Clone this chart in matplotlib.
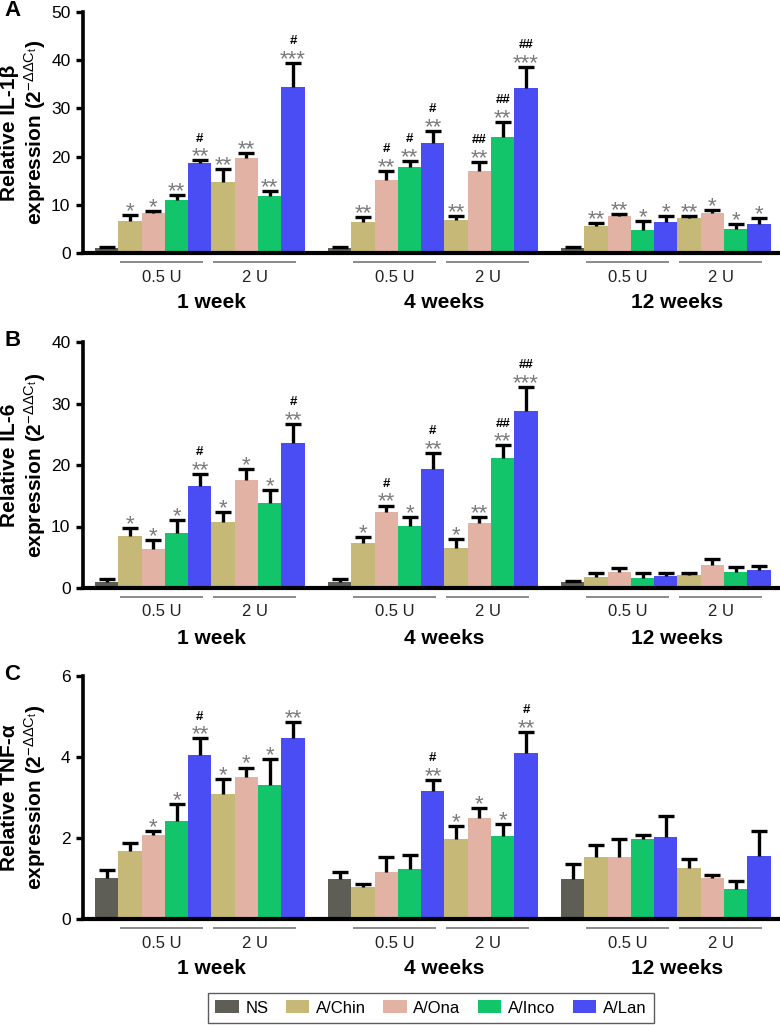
import matplotlib
matplotlib.use('Agg')
import matplotlib.pyplot as plt
import matplotlib.transforms as mtransforms
from matplotlib.patches import Patch
import numpy as np

plt.rcParams['font.family'] = ['Liberation Sans', 'DejaVu Sans']
plt.rcParams['mathtext.fontset'] = 'custom'
plt.rcParams['mathtext.rm'] = 'Liberation Sans'
plt.rcParams['mathtext.it'] = 'Liberation Sans:italic'
plt.rcParams['mathtext.bf'] = 'Liberation Sans:bold'

# ---------------- data ----------------
TREATMENTS = ['NS', 'A/Chin', 'A/Ona', 'A/Inco', 'A/Lan']
COLORS = ['#5e5e57', '#c6b978', '#e2b2a5', '#12c46a', '#4a4cf4']
WEEKS = ['1 week', '4 weeks', '12 weeks']
DOSES = ['0.5 U', '2 U']

# order inside each week: NS, 0.5 U (Chin, Ona, Inco, Lan), 2 U (Chin, Ona, Inco, Lan)
IL1B_MEAN = [[1.0, 6.6, 8.2, 11.0, 18.6, 14.8, 19.8, 11.8, 34.4],
             [1.0, 6.4, 15.2, 17.9, 22.8, 6.8, 17.0, 24.1, 34.2],
             [1.0, 5.6, 7.7, 4.8, 6.4, 7.2, 8.2, 5.0, 6.0]]
IL1B_ERR = [[0.3, 1.2, 0.5, 1.0, 0.6, 2.6, 0.9, 1.0, 5.0],
            [0.3, 1.0, 1.8, 1.2, 2.5, 0.9, 1.9, 3.1, 4.4],
            [0.3, 0.6, 0.4, 1.8, 1.3, 0.5, 0.8, 1.0, 1.2]]
IL1B_STARS = [['', '*', '*', '**', '**', '**', '**', '**', '***'],
              ['', '**', '**', '**', '**', '**', '**', '**', '***'],
              ['', '**', '**', '*', '*', '**', '*', '*', '*']]
IL1B_HASH = [['', '', '', '', '#', '', '', '', '#'],
             ['', '', '#', '#', '#', '', '##', '##', '##'],
             ['', '', '', '', '', '', '', '', '']]

IL6_MEAN = [[1.0, 8.4, 6.3, 8.9, 16.6, 10.7, 17.6, 13.8, 23.5],
            [1.0, 7.3, 12.4, 10.1, 19.4, 6.5, 10.6, 21.2, 28.8],
            [0.9, 1.8, 2.6, 1.6, 1.9, 2.1, 3.7, 2.6, 2.9]]
IL6_ERR = [[0.5, 1.4, 1.5, 2.2, 1.9, 1.7, 1.7, 2.1, 3.2],
           [0.4, 1.0, 1.0, 1.5, 2.6, 1.5, 1.0, 2.0, 3.9],
           [0.3, 0.6, 0.6, 0.8, 0.5, 0.3, 1.0, 0.8, 0.7]]
IL6_STARS = [['', '*', '*', '*', '**', '*', '*', '*', '**'],
             ['', '*', '**', '*', '**', '*', '**', '**', '***'],
             ['', '', '', '', '', '', '', '', '']]
IL6_HASH = [['', '', '', '', '#', '', '', '', '#'],
            ['', '', '#', '', '#', '', '', '##', '##'],
            ['', '', '', '', '', '', '', '', '']]

TNF_MEAN = [[1.02, 1.68, 2.08, 2.43, 4.06, 3.09, 3.51, 3.32, 4.48],
            [1.0, 0.79, 1.15, 1.24, 3.17, 1.97, 2.49, 2.05, 4.10],
            [1.0, 1.52, 1.52, 1.97, 2.03, 1.27, 1.02, 0.73, 1.55]]
TNF_ERR = [[0.20, 0.20, 0.10, 0.40, 0.40, 0.37, 0.23, 0.63, 0.39],
           [0.16, 0.07, 0.37, 0.35, 0.26, 0.32, 0.24, 0.30, 0.52],
           [0.35, 0.30, 0.46, 0.10, 0.52, 0.22, 0.07, 0.20, 0.63]]
TNF_STARS = [['', '', '*', '*', '**', '*', '*', '*', '**'],
             ['', '', '', '', '**', '*', '*', '*', '**'],
             ['', '', '', '', '', '', '', '', '']]
TNF_HASH = [['', '', '', '', '#', '', '', '', ''],
            ['', '', '', '', '#', '', '', '', '#'],
            ['', '', '', '', '', '', '', '', '']]

# ---------------- layout ----------------
W, H = 780, 1025
fig = plt.figure(figsize=(W / 100, H / 100), dpi=100)

AX_LEFT, AX_RIGHT = 83, 780


def axes_rect(top, bottom):
    return [AX_LEFT / W, 1 - bottom / H, (AX_RIGHT - AX_LEFT) / W, (bottom - top) / H]


SUP = r'(2$^{-\Delta\Delta \mathrm{C}_\mathrm{t}}$)'
panels = [
    dict(letter='A', label='Relative IL-1β\nexpression ' + SUP, mean=IL1B_MEAN, err=IL1B_ERR,
         stars=IL1B_STARS, hashes=IL1B_HASH, yticks=[0, 10, 20, 30, 40, 50], top=12, bottom=253),
    dict(letter='B', label='Relative IL-6\nexpression ' + SUP, mean=IL6_MEAN, err=IL6_ERR,
         stars=IL6_STARS, hashes=IL6_HASH, yticks=[0, 10, 20, 30, 40], top=342, bottom=588),
    dict(letter='C', label='Relative TNF-α\nexpression ' + SUP, mean=TNF_MEAN, err=TNF_ERR,
         stars=TNF_STARS, hashes=TNF_HASH, yticks=[0, 2, 4, 6], top=676, bottom=919),
]

for p in panels:
    ax = fig.add_axes(axes_rect(p['top'], p['bottom']))
    for g in range(len(WEEKS)):
        xs = [g * 10 + i for i in range(9)]
        cols = [COLORS[0]] + [COLORS[1 + (i - 1) % 4] for i in range(1, 9)]
        means = p['mean'][g]
        errs = p['err'][g]
        ax.bar(xs, means, width=1.0, color=cols, edgecolor='none', zorder=2)
        eb = ax.errorbar(xs, means, yerr=[np.zeros(9), errs], fmt='none', ecolor='black',
                         elinewidth=2.4, capsize=6, capthick=2.4, zorder=3)
        # keep only the upper caps
        for cl in eb[1]:
            if np.allclose(np.asarray(cl.get_ydata(), float), np.asarray(means, float)):
                cl.set_visible(False)
        for i in range(9):
            top = means[i] + errs[i]
            if p['stars'][g][i]:
                ax.annotate(p['stars'][g][i], xy=(xs[i], top), xytext=(0, -1.5),
                            textcoords='offset points', ha='center', va='baseline',
                            fontsize=16, color='#7a7a7a', zorder=4)
            if p['hashes'][g][i]:
                ax.annotate(p['hashes'][g][i], xy=(xs[i], top), xytext=(0, 13.5),
                            textcoords='offset points', ha='center', va='baseline',
                            fontsize=9.5, fontweight='bold', color='black', zorder=4)
        # dose underlines and labels
        for d in range(2):
            left = g * 10 + 0.5 + d * 4
            base = mtransforms.blended_transform_factory(ax.transData, ax.transAxes)
            tline = base + mtransforms.ScaledTranslation(0, -9 / 100, fig.dpi_scale_trans)
            ax.plot([left + 0.12, left + 3.6], [0, 0], color='#8a8a8a', lw=1.4,
                    transform=tline, clip_on=False)
            ttext = base + mtransforms.ScaledTranslation(0, -24 / 100, fig.dpi_scale_trans)
            ax.text(left + 1.86, 0, DOSES[d], transform=ttext, ha='center', va='center',
                    fontsize=12, color='#222222', clip_on=False)
        tweek = mtransforms.blended_transform_factory(ax.transData, ax.transAxes) + \
            mtransforms.ScaledTranslation(0, -50 / 100, fig.dpi_scale_trans)
        ax.text(g * 10 + 4.5, 0, WEEKS[g], transform=tweek, ha='center', va='center',
                fontsize=15, fontweight='bold', clip_on=False)

    ax.set_xlim(-1.015, 28.9)
    ax.set_ylim(0, p['yticks'][-1])
    ax.set_yticks(p['yticks'])
    ax.set_xticks([])
    for s in ['top', 'right']:
        ax.spines[s].set_visible(False)
    ax.spines['left'].set_linewidth(2.6)
    ax.spines['bottom'].set_linewidth(3.0)
    ax.tick_params(axis='y', direction='out', length=5, width=2.4, labelsize=12.5, pad=4)
    ax.patch.set_alpha(0)

    ymid = 1 - (p['top'] + p['bottom']) / 2 / H
    fig.text(24 / W, ymid, p['label'], rotation=90, ha='center', va='center',
             fontsize=15, fontweight='bold', linespacing=1.2, multialignment='center')
    fig.text(4 / W, 1 - (p['top'] - 2) / H, p['letter'], ha='left', va='center',
             fontsize=16, fontweight='bold')

handles = [Patch(facecolor=c, edgecolor='none') for c in COLORS]
fig.legend(handles, TREATMENTS, ncol=5, loc='center', bbox_to_anchor=(431 / W, 1 - 1008 / H),
           frameon=True, fancybox=False, edgecolor='#333333', fontsize=12,
           handlelength=1.4, handleheight=0.8, handletextpad=0.4, columnspacing=1.05,
           borderpad=0.45)

fig.savefig('out.png', dpi=100)
